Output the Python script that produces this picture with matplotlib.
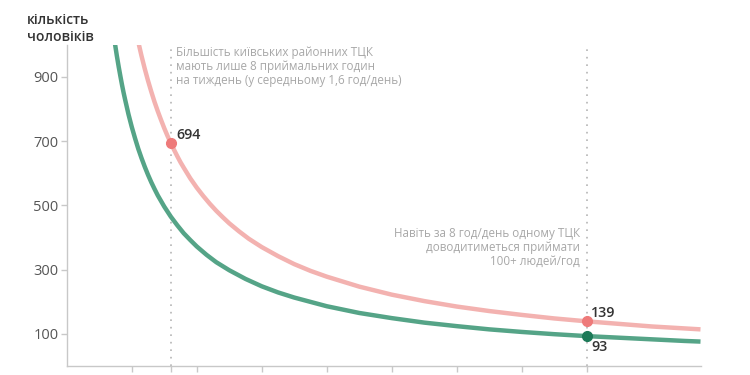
import matplotlib

matplotlib.use("Agg")

import matplotlib.pyplot as plt

plt.rcParams["font.family"] = ["Open Sans", "DejaVu Sans"]

COLOR_PINK_LINE = "#f3b2b0"
COLOR_PINK_DOT = "#ee7a7a"
COLOR_GREEN_LINE = "#55a487"
COLOR_GREEN_DOT = "#1d7a58"
COLOR_GRID = "#c8c8c8"
COLOR_NOTE = "#a8a8a8"
COLOR_TEXT = "#333333"

# hours per day -> people per hour
pink_hours = [1.11, 1.15, 1.2, 1.25, 1.3, 1.35, 1.4, 1.45, 1.5, 1.55, 1.6, 1.65,
              1.7, 1.75, 1.8, 1.9, 2.0, 2.1, 2.2, 2.3, 2.4, 2.5, 2.65, 2.8, 3.0,
              3.25, 3.5, 3.75, 4.0, 4.5, 5.0, 5.5, 6.0, 6.5, 7.0, 7.5, 8.0, 8.5,
              9.0, 9.5, 9.75]
pink_people = [1000, 965, 925, 888, 854, 822, 793, 766, 740, 716, 694, 673,
               653, 634, 617, 584, 555, 529, 505, 483, 463, 444, 419, 396, 370,
               342, 317, 296, 278, 247, 222, 202, 185, 171, 159, 148, 139, 131,
               123, 117, 114]

green_hours = [0.744, 0.77, 0.8, 0.825, 0.85, 0.875, 0.9, 0.95, 1.0, 1.05, 1.1,
               1.15, 1.2, 1.25, 1.3, 1.35, 1.4, 1.5, 1.6, 1.7, 1.8, 1.9, 2.0,
               2.15, 2.3, 2.5, 2.75, 3.0, 3.25, 3.5, 4.0, 4.5, 5.0, 5.5, 6.0,
               6.5, 7.0, 7.5, 8.0, 8.5, 9.0, 9.5, 9.75]
green_people = [1000, 966, 930, 902, 875, 850, 827, 783, 744, 709, 676,
                647, 620, 595, 572, 551, 531, 496, 465, 438, 413, 392, 372,
                346, 323, 298, 271, 248, 229, 213, 186, 165, 149, 135, 124,
                114, 106, 99, 93, 88, 83, 78, 76]

marked_hours = [1.6, 8.0]
pink_marked = [694, 139]
green_marked = [93]

x_ticks = [1, 1.6, 2, 3, 4, 5, 6, 7, 8]
x_tick_labels = ["1", "1,6", "2", "3", "4", "5", "6", "7", "8"]
y_ticks = [100, 300, 500, 700, 900]

note_left = "Більшість київських районних ТЦК\nмають лише 8 приймальних годин\nна тиждень (у середньому 1,6 год/день)"
note_right = "Навіть за 8 год/день одному ТЦК\nдоводитиметься приймати\n100+ людей/год"

fig = plt.figure(figsize=(7.5, 3.75), dpi=100)
ax = fig.add_axes([0.089, 0.024, 0.845, 0.857])

for h in marked_hours:
    ax.axvline(h, color="#b5b5b5", lw=1.2, ls=(0, (1, 3.5)), zorder=1)

ax.plot(pink_hours, pink_people, color=COLOR_PINK_LINE, lw=3.2,
        solid_capstyle="butt", solid_joinstyle="round", zorder=2)
ax.plot(green_hours, green_people, color=COLOR_GREEN_LINE, lw=3.2,
        solid_capstyle="butt", solid_joinstyle="round", zorder=2)

ax.plot(marked_hours, pink_marked, "o", color=COLOR_PINK_DOT, ms=7, zorder=3)
ax.plot(marked_hours[1:], green_marked, "o", color=COLOR_GREEN_DOT, ms=7, zorder=3)

ax.annotate(f"{pink_marked[0]}", (marked_hours[0], pink_marked[0]),
            xytext=(4, 1), textcoords="offset points", fontsize=10.3,
            color=COLOR_TEXT, fontweight="semibold", va="bottom")
ax.annotate(f"{pink_marked[1]}", (marked_hours[1], pink_marked[1]),
            xytext=(3, 1), textcoords="offset points", fontsize=10.3,
            color=COLOR_TEXT, fontweight="semibold", va="bottom")
ax.annotate(f"{green_marked[0]}", (marked_hours[1], green_marked[0]),
            xytext=(3, -3), textcoords="offset points", fontsize=10.3,
            color=COLOR_TEXT, fontweight="semibold", va="top")

ax.text(1.6 + 0.08, 995, note_left, fontsize=8.4, color=COLOR_NOTE,
        va="top", ha="left", linespacing=1.1)
ax.text(8.0 - 0.1, 432, note_right, fontsize=8.4, color=COLOR_NOTE,
        va="top", ha="right", multialignment="right", linespacing=1.1)

ax.set_xlim(0, 9.75)
ax.set_ylim(0, 1000)
ax.set_xticks(x_ticks)
ax.set_xticklabels(x_tick_labels)
ax.set_yticks(y_ticks)

for side in ("top", "right"):
    ax.spines[side].set_visible(False)
for side in ("left", "bottom"):
    ax.spines[side].set_color(COLOR_GRID)
    ax.spines[side].set_linewidth(1)
ax.tick_params(axis="both", colors=COLOR_GRID, length=4, width=1)
ax.tick_params(axis="y", labelcolor="#555555", labelsize=10.5, pad=2)
ax.tick_params(axis="x", labelcolor="#888888", labelsize=10, pad=2)

fig.text(0.036, 0.965, "кількість\nчоловіків", fontsize=10, color=COLOR_TEXT,
         fontweight="semibold", va="top", ha="left", linespacing=1.3)

fig.savefig("out.png", dpi=100)
